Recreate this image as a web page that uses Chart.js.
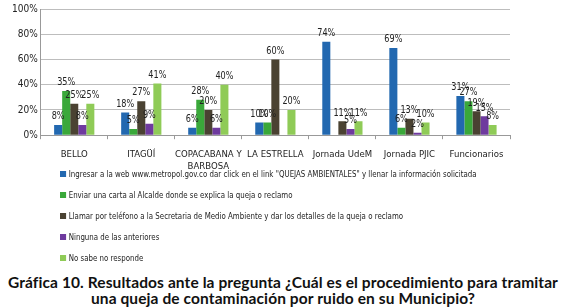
<!DOCTYPE html>
<html>
<head>
<meta charset="utf-8">
<script src="https://cdn.jsdelivr.net/npm/chart.js@4.4.1/dist/chart.umd.min.js"></script>
<style>
  html, body { margin: 0; padding: 0; background: #fff; }
  body { width: 566px; height: 307px; overflow: hidden; position: relative; }
  #wrap { position: absolute; left: 0; top: 0; width: 566px; height: 182px; }
  #legend { position: absolute; left: 60px; top: 168px; font-family: "DejaVu Sans Condensed", sans-serif; font-size: 9px; color: #222; transform: scaleX(0.87); transform-origin: 0 0; }
  #legend div { height: 21px; line-height: 12px; white-space: nowrap; }
  #legend span.sw { display: inline-block; width: 7px; height: 6px; margin-right: 3px; vertical-align: 0px; }
  #title { position: absolute; left: 0; top: 274px; width: 566px; text-align: center; font-family: Lato, "Open Sans", sans-serif; font-weight: bold; font-size: 15.5px; line-height: 16px; color: #111; letter-spacing: 0.1px; }
</style>
</head>
<body>
<div id="wrap"><canvas id="chart"></canvas></div>
<div id="legend"></div>
<div id="title">Gráfica 10. Resultados ante la pregunta ¿Cuál es el procedimiento para tramitar<br>una queja de contaminación por ruido en su Municipio?</div>
<script>
// Categorías y series (porcentajes)
const categorias = ['BELLO', 'ITAGÜÍ', ['COPACABANA Y', 'BARBOSA'], 'LA ESTRELLA', 'Jornada UdeM', 'Jornada PJIC', 'Funcionarios'];
const ticksY = ['0%', '20%', '40%', '60%', '80%', '100%'];

const ingresarWeb   = [8, 18, 6, 10, 74, 69, 31];
const enviarCarta   = [35, 5, 28, 10, 0, 6, 27];
const llamarTel     = [25, 27, 20, 60, 11, 13, 19];
const ninguna       = [8, 9, 6, 0, 5, 2, 15];
const noSabe        = [25, 41, 40, 20, 11, 10, 8];

const series = [
    { label: 'Ingresar a la web www.metropol.gov.co dar click en el link "QUEJAS AMBIENTALES" y llenar la información solicitada', data: ingresarWeb, color: '#2268b0' },
    { label: 'Enviar una carta al Alcalde donde se explica la queja o reclamo', data: enviarCarta, color: '#3aa83a' },
    { label: 'Llamar por teléfono a la Secretaria de Medio Ambiente y dar los detalles de la queja o reclamo', data: llamarTel, color: '#4a4232' },
    { label: 'Ninguna de las anteriores', data: ninguna, color: '#6e3a9e' },
    { label: 'No sabe no responde', data: noSabe, color: '#8fcb57' }
];

const fontNarrow = '"DejaVu Sans Condensed", sans-serif';

// etiquetas de valor encima de cada barra (texto un poco estrechado)
const etiquetasPlugin = {
    id: 'etiquetas',
    afterDatasetsDraw(chart) {
        const ctx = chart.ctx;
        ctx.save();
        ctx.font = '11px ' + fontNarrow;
        ctx.fillStyle = '#222';
        ctx.textAlign = 'center';
        ctx.textBaseline = 'bottom';
        chart.data.datasets.forEach((ds, i) => {
            chart.getDatasetMeta(i).data.forEach((bar, j) => {
                const v = ds.data[j];
                if (!v) return;
                ctx.save();
                ctx.translate(bar.x, bar.y - 3);
                ctx.scale(0.82, 1);
                ctx.fillText(v + '%', 0, 0);
                ctx.restore();
            });
        });
        ctx.restore();
    }
};

// leyenda en HTML
const legend = document.getElementById('legend');
series.forEach(s => {
    const row = document.createElement('div');
    row.innerHTML = '<span class="sw" style="background:' + s.color + '"></span>' + s.label;
    legend.appendChild(row);
});

new Chart(document.getElementById('chart').getContext('2d'), {
    type: 'bar',
    data: {
        labels: categorias,
        datasets: series.map(s => ({
            label: s.label,
            data: s.data,
            backgroundColor: s.color,
            borderWidth: 0,
            categoryPercentage: 0.6,
            barPercentage: 1.0
        }))
    },
    options: {
        responsive: true,
        maintainAspectRatio: false,
        animation: false,
        layout: { padding: { left: 9, right: 56, top: 7, bottom: 0 } },
        plugins: {
            legend: { display: false },
            tooltip: { enabled: false }
        },
        scales: {
            y: {
                min: 0, max: 100,
                ticks: {
                    stepSize: 20,
                    color: '#222',
                    font: { family: fontNarrow, size: 10 },
                    callback: (v) => ticksY[v / 20]
                },
                grid: { color: '#bdbdbd', drawTicks: false, tickLength: 0 },
                border: { color: '#999' }
            },
            x: {
                ticks: {
                    color: '#222',
                    font: { family: fontNarrow, size: 9.5 },
                    padding: 10,
                    maxRotation: 0,
                    autoSkip: false
                },
                grid: { display: true, offset: true, drawOnChartArea: false, color: '#999', tickLength: 4 },
                border: { color: '#999' }
            }
        }
    },
    plugins: [etiquetasPlugin]
});
</script>
</body>
</html>
